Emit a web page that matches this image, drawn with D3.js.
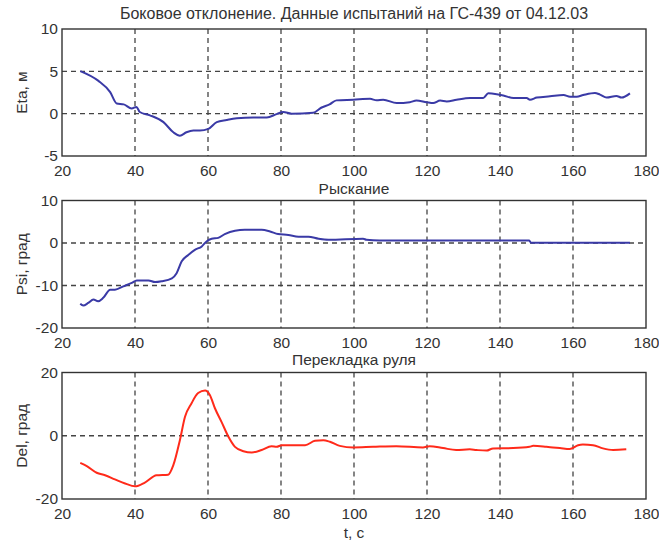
<!DOCTYPE html>
<html><head><meta charset="utf-8">
<script src="https://cdn.jsdelivr.net/npm/d3@7/dist/d3.min.js"></script>
<style>body{margin:0;background:#fff;}svg{display:block;font-family:"Liberation Sans",Arial,sans-serif;}</style>
</head><body>
<svg id="c" width="659" height="542"></svg>
<script>
const titleText = "Боковое отклонение. Данные испытаний на ГС-439 от 04.12.03";
const xTicks = [20,40,60,80,100,120,140,160,180];

const etaT = [25,29.9,33.2,35,36.9,39.1,40.4,41.3,44.1,47.8,50.5,52.3,54.1,56,57.8,60.1,62.4,65.1,67.9,72.4,76.1,78.8,80.6,82.9,88.8,91,93.3,95.2,99.8,104.4,106.2,108,111.7,115.3,117.1,119.9,121.7,123.6,125.4,128.1,131.8,135.4,136.8,139.1,140.9,143.7,147.3,148.2,150.1,153.7,157.4,159.2,161,162.8,166,167.4,169.2,171.9,173.3,175.6];
const etaV = [5.03,3.9,2.55,1.2,1.1,0.6,0.8,0.2,-0.2,-1.0,-2.2,-2.6,-2.2,-2.0,-2.0,-1.8,-1.0,-0.75,-0.55,-0.45,-0.45,-0.05,0.2,0.0,0.1,0.7,1.1,1.57,1.65,1.75,1.57,1.65,1.25,1.35,1.55,1.35,1.25,1.55,1.45,1.65,1.85,1.85,2.4,2.3,2.15,1.85,1.85,1.65,1.9,2.05,2.2,2.0,2.0,2.2,2.45,2.25,1.9,2.1,1.9,2.4];

const psiT = [25,25.8,27.2,28.6,29.9,31.3,33.2,34.5,36.8,39.1,40.5,43.7,45.5,47.3,50.1,51.4,52.8,54.6,56.4,58.3,59.6,61,62.8,64.6,67.4,70.1,74.7,77,79.2,82,84.8,87.5,90.3,93,102.5,103.4,107,148,148.5,175.6];
const psiV = [-14.3,-14.7,-14.1,-13.3,-13.7,-12.9,-11.0,-11.0,-10.2,-9.4,-8.8,-8.8,-9.2,-9.0,-8.3,-7.1,-4.3,-2.8,-1.6,-0.8,0.37,1.0,1.2,2.1,2.9,3.1,3.1,2.7,2.1,1.9,1.5,1.5,1.0,0.76,1.0,0.76,0.6,0.6,0.05,0.05];

const delT = [25,26.8,29.5,31.8,34.5,37.3,40,42.7,45.9,49.1,50.5,52.3,53.7,55.5,57.3,59.2,60.5,61.9,63.7,65.6,67.4,69.7,72,74.7,77.4,78.8,80.2,86.6,89.3,91.6,93.4,96.1,99.8,105.2,111.6,118.9,120.7,124.4,128,131.7,133.5,136.3,138.1,143.6,148.1,149.1,152.7,154.5,156.4,159.1,161.4,162.7,165.5,168.2,171,174.6];
const delV = [-8.6,-9.6,-11.7,-12.5,-13.8,-15.1,-16.0,-14.8,-12.5,-12.3,-9.3,-1.4,6.0,10.3,13.5,14.3,12.9,8.7,4.4,-0.3,-3.5,-4.9,-5.3,-4.5,-3.3,-3.5,-3.0,-3.0,-1.6,-1.4,-1.9,-3.2,-3.7,-3.5,-3.3,-3.7,-3.3,-3.9,-4.5,-4.3,-4.5,-4.7,-4.0,-3.9,-3.5,-3.2,-3.5,-3.7,-3.9,-4.2,-3.0,-2.8,-3.0,-4.0,-4.5,-4.3];

const panels = [
  {top:29, bottom:156, t:etaT, v:etaV, dom:[-5,10], yt:[-5,0,5,10], label:"Eta, м", color:"#3a3aa6", sub:"Рыскание", subY:194},
  {top:200.5, bottom:328, t:psiT, v:psiV, dom:[-20,10], yt:[-20,-10,0,10], label:"Psi, град", color:"#3a3aa6", sub:"Перекладка руля", subY:365},
  {top:372.5, bottom:499, t:delT, v:delV, dom:[-20,20], yt:[-20,0,20], label:"Del, град", color:"#ff2a1a", sub:"t, с", subY:538}
];

const FS = 15.5;
const svg = d3.select("#c");
const L = 62, R = 646;
const x = d3.scaleLinear().domain([20,180]).range([L,R]);

svg.append("text").attr("x",(L+R)/2).attr("y",19).attr("text-anchor","middle")
  .attr("font-size",16).attr("fill","#333").text(titleText);

panels.forEach(p=>{
  const y = d3.scaleLinear().domain(p.dom).range([p.bottom,p.top]);
  const g = svg.append("g");
  g.selectAll(".gx").data(xTicks.slice(1,-1)).enter().append("line")
    .attr("x1",d=>x(d)).attr("x2",d=>x(d)).attr("y1",p.top).attr("y2",p.bottom)
    .attr("stroke","#444").attr("stroke-width",1.3).attr("stroke-dasharray","5,4");
  g.selectAll(".gy").data(p.yt.slice(1,-1)).enter().append("line")
    .attr("x1",L).attr("x2",R).attr("y1",d=>y(d)).attr("y2",d=>y(d))
    .attr("stroke","#444").attr("stroke-width",1.3).attr("stroke-dasharray","5,4");
  const xa = g.append("g").attr("transform",`translate(0,${p.bottom})`)
    .call(d3.axisBottom(x).tickValues(xTicks).tickFormat(d=>String(d)).tickSize(0).tickPadding(9));
  const ya = g.append("g").attr("transform",`translate(${L},0)`)
    .call(d3.axisLeft(y).tickValues(p.yt).tickFormat(d=>String(d)).tickSize(0).tickPadding(4));
  [xa,ya].forEach(a=>{a.select(".domain").remove();
    a.selectAll("text").attr("font-size",FS).attr("fill","#333").attr("font-family","'Liberation Sans',Arial,sans-serif");});
  g.append("rect").attr("x",L).attr("y",p.top).attr("width",R-L).attr("height",p.bottom-p.top)
    .attr("fill","none").attr("stroke","#333").attr("stroke-width",1.4);
  const line = d3.line().x((d,i)=>x(p.t[i])).y((d,i)=>y(p.v[i])).curve(d3.curveMonotoneX);
  g.append("path").datum(p.v).attr("d",line).attr("fill","none")
    .attr("stroke",p.color).attr("stroke-width",2);
  g.append("text").attr("transform",`translate(27,${(p.top+p.bottom)/2}) rotate(-90)`)
    .attr("text-anchor","middle").attr("font-size",FS).attr("fill","#333").text(p.label);
  svg.append("text").attr("x",(L+R)/2).attr("y",p.subY).attr("text-anchor","middle")
    .attr("font-size",FS).attr("fill","#333").text(p.sub);
});
</script>
</body></html>
